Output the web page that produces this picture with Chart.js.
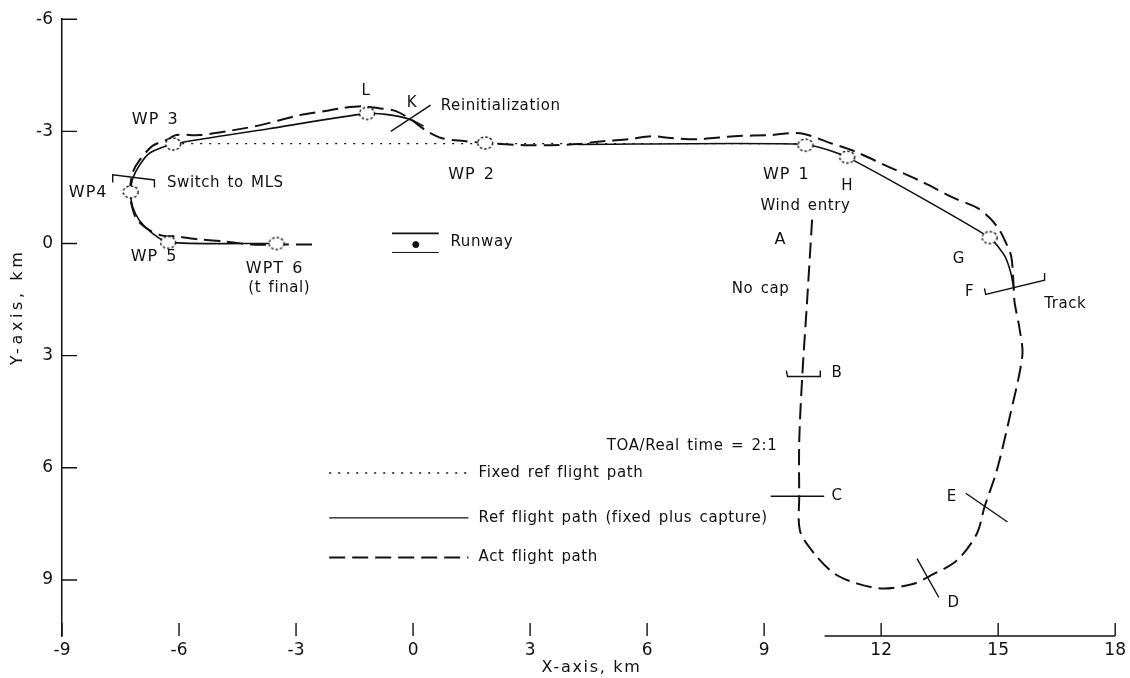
<!DOCTYPE html>
<html lang="en">
<head>
<meta charset="UTF-8">
<title>Flight path, X-Y plane</title>
<script src="https://cdn.jsdelivr.net/npm/chart.js"></script>
<style>
  body { margin: 0; background: #fff; }
</style>
</head>
<body>
<canvas id="pathChart" width="1130" height="678"></canvas>
<script>
const INK = '#111';
const FONT = '"DejaVu Sans", sans-serif';

// axis ticks
const xTicks = [-9, -6, -3, 0, 3, 6, 9, 12, 15, 18];
const yTicks = [-6, -3, 0, 3, 6, 9];

// fixed ref flight path (dotted)
const fixedX = [-6.15, 1.85, 10.06];
const fixedY = [-2.67, -2.67, -2.67];

// ref flight path, fixed plus capture (solid) - west part up to K
const refWestX = [-3.50, -6.28, -6.68, -7.01, -7.19, -7.24, -7.19, -7.01, -6.75, -6.15, -3.70, -1.18, -0.75, -0.37, -0.03, 0.27];
const refWestY = [0.00, -0.03, -0.27, -0.61, -0.98, -1.38, -1.73, -2.10, -2.42, -2.66, -3.07, -3.48, -3.46, -3.40, -3.30, -3.14];
// east part, WP 1 - H - G - F
const refEastX = [4.23, 10.06, 11.13, 14.78, 15.16, 15.32, 15.40];
const refEastY = [-2.65, -2.65, -2.31, -0.16, 0.32, 0.77, 1.20];

// act flight path (dashed), from wind entry round the loop to WPT 6
const actX = [
  10.23, 10.10, 9.98, 9.90, 9.90, 9.92, 10.29, 10.80, 11.39, 12.07,
  12.84, 13.22, 13.94, 14.45, 14.65, 14.96, 15.27, 15.62, 15.55, 15.42,
  15.40, 15.34, 15.22, 15.04, 14.78, 14.45, 13.86, 12.99, 12.15, 11.31,
  10.69, 9.93, 9.16, 8.24, 7.30, 6.61, 6.10, 5.51, 4.92, 4.23,
  3.54, 2.87, 1.85, 1.30, 0.73, 0.32, -0.03, -0.44, -0.88, -1.31,
  -1.83, -2.16, -2.92, -3.94, -4.79, -5.48, -6.07, -6.32, -6.68, -7.01,
  -7.19, -7.26, -7.21, -7.08, -6.75, -6.42, -6.07, -5.48, -4.79, -4.12,
  -3.50, -2.55
];
const actY = [
  -0.64, 1.57, 3.51, 5.29, 6.76, 7.69, 8.30, 8.83, 9.10, 9.23,
  9.10, 8.91, 8.48, 7.77, 7.05, 6.09, 4.76, 3.00, 2.29, 1.57,
  1.20, 0.37, 0.03, -0.35, -0.69, -0.96, -1.22, -1.68, -2.07, -2.47,
  -2.69, -2.95, -2.90, -2.87, -2.79, -2.82, -2.87, -2.79, -2.74, -2.66,
  -2.63, -2.63, -2.69, -2.74, -2.82, -3.03, -3.30, -3.54, -3.62, -3.67,
  -3.62, -3.56, -3.43, -3.16, -3.00, -2.90, -2.90, -2.77, -2.61, -2.23,
  -1.89, -1.36, -1.01, -0.64, -0.35, -0.21, -0.19, -0.11, -0.05, 0.03,
  0.03, 0.03
];

// waypoints (dashed circles)
const wpNames = ['WP 3', 'WP4', 'WP 5', 'WPT 6', 'L', 'WP 2', 'WP 1', 'H', 'G'];
const wpX = [-6.15, -7.24, -6.28, -3.50, -1.18, 1.85, 10.06, 11.13, 14.78];
const wpY = [-2.66, -1.38, -0.03, 0.00, -3.48, -2.69, -2.63, -2.31, -0.16];

// event marks across the path
const markK = [[-0.57, -3.00], [0.45, -3.70]];
const markMLS = [[-7.70, -1.63], [-7.70, -1.84], [-6.63, -1.70], [-6.63, -1.50]];
const markB = [[9.57, 3.40], [9.60, 3.56], [10.44, 3.56], [10.44, 3.40]];
const markC = [[9.17, 6.76], [10.54, 6.76]];
const markD = [[12.92, 8.43], [13.48, 9.47]];
const markE = [[14.17, 6.68], [15.24, 7.45]];
const markF = [[14.65, 1.20], [14.68, 1.36], [16.19, 0.98], [16.19, 0.79]];

// runway symbol
const runwayTop = [[-0.54, -0.27], [0.66, -0.27]];
const runwayBottom = [[-0.54, 0.24], [0.66, 0.24]];
const runwayDot = [[0.07, 0.03]];

// text notes: [text, x, y, align, big]
const notes = [
  ['WP 3', -6.61, -3.30, 'center', true],
  ['WP4', -8.33, -1.36, 'center', true],
  ['Switch to MLS', -6.31, -1.62, 'left', false],
  ['WP 5', -6.64, 0.37, 'center', true],
  ['WPT 6', -3.55, 0.69, 'center', true],
  ['(t final)', -3.43, 1.20, 'center', false],
  ['L', -1.21, -4.07, 'center', false],
  ['K', -0.03, -3.75, 'center', false],
  ['Reinitialization', 0.71, -3.67, 'left', false],
  ['WP 2', 1.50, -1.84, 'center', true],
  ['WP 1', 9.57, -1.84, 'center', true],
  ['H', 11.13, -1.54, 'center', false],
  ['Wind entry', 10.06, -1.01, 'center', false],
  ['A', 9.42, -0.11, 'center', true],
  ['No cap', 8.91, 1.22, 'center', false],
  ['B', 10.87, 3.48, 'center', false],
  ['TOA/Real time = 2:1', 9.34, 5.43, 'right', false],
  ['C', 10.87, 6.76, 'center', false],
  ['D', 13.86, 9.63, 'center', false],
  ['E', 13.81, 6.78, 'center', false],
  ['G', 13.99, 0.43, 'center', false],
  ['F', 14.27, 1.30, 'center', false],
  ['Track', 16.72, 1.62, 'center', false],
  ['Runway', 0.96, -0.03, 'left', false]
];

// key, drawn inside the plot
const keyLabels = ['Fixed ref flight path', 'Ref flight path (fixed plus capture)', 'Act flight path'];
const keyRows = [6.14, 7.34, 8.40];
const keySample = [-2.15, 1.42];
const keyTextX = 1.68;
const keyDash = [[2, 7], [], [16, 7]];
const axisStubFrom = 10.55;

function pts(xs, ys) {
  return xs.map((x, i) => ({ x: x, y: ys[i] }));
}
function pairs(list) {
  return list.map(p => ({ x: p[0], y: p[1] }));
}

// dashed ellipse used as the waypoint symbol
function makeMarker() {
  const c = document.createElement('canvas');
  c.width = 20; c.height = 16;
  const g = c.getContext('2d');
  g.beginPath();
  g.ellipse(10, 8, 7.5, 6, 0, 0, Math.PI * 2);
  g.fillStyle = '#fff';
  g.fill();
  g.setLineDash([2.5, 2]);
  g.lineWidth = 1.4;
  g.strokeStyle = INK;
  g.stroke();
  return c;
}

function pathSet(data, opts) {
  return Object.assign({
    data: data,
    showLine: true,
    pointRadius: 0,
    borderColor: INK,
    backgroundColor: INK,
    borderWidth: 1.4,
    tension: 0,
    fill: false
  }, opts);
}

const datasets = [
  { label: 'waypoints', data: pts(wpX, wpY), pointStyle: makeMarker(), pointRadius: 8, showLine: false },
  pathSet(pts(actX, actY), { label: 'Act flight path', borderDash: [16, 7], borderWidth: 2, tension: 0.3 }),
  pathSet(pts(refWestX, refWestY), { label: 'Ref west', borderWidth: 1.6, tension: 0.25 }),
  pathSet(pts(refEastX, refEastY), { label: 'Ref east', borderWidth: 1.6, tension: 0.2 }),
  pathSet(pts(fixedX, fixedY), { label: 'Fixed ref flight path', borderDash: [2, 7], borderWidth: 1.3 }),
  pathSet(pairs(markK), { label: 'K' }),
  pathSet(pairs(markMLS), { label: 'MLS' }),
  pathSet(pairs(markB), { label: 'B' }),
  pathSet(pairs(markC), { label: 'C' }),
  pathSet(pairs(markD), { label: 'D' }),
  pathSet(pairs(markE), { label: 'E' }),
  pathSet(pairs(markF), { label: 'F' }),
  pathSet(pairs(runwayTop), { label: 'runway', borderWidth: 1.6 }),
  pathSet(pairs(runwayBottom), { label: 'runway', borderWidth: 1 }),
  { label: 'runway dot', data: pairs(runwayDot), pointRadius: 3, backgroundColor: INK, borderColor: INK, showLine: false }
];

const frame = {
  id: 'frame',
  afterDraw(chart) {
    const { ctx, chartArea: area, scales: { x, y } } = chart;
    ctx.save();
    ctx.strokeStyle = INK;
    ctx.lineWidth = 1.4;

    // tick marks pointing into the plot
    ctx.beginPath();
    yTicks.forEach(v => {
      const p = y.getPixelForValue(v);
      ctx.moveTo(area.left, p);
      ctx.lineTo(area.left + 15, p);
    });
    xTicks.forEach(v => {
      const p = x.getPixelForValue(v);
      ctx.moveTo(p, area.bottom);
      ctx.lineTo(p, area.bottom - 13);
    });
    // only the right end of the x axis line is drawn
    ctx.moveTo(x.getPixelForValue(axisStubFrom), area.bottom);
    ctx.lineTo(area.right, area.bottom);
    ctx.stroke();

    // key
    keyLabels.forEach((t, i) => {
      const py = y.getPixelForValue(keyRows[i]);
      ctx.beginPath();
      ctx.setLineDash(keyDash[i]);
      ctx.lineWidth = i === 2 ? 2 : 1.4;
      ctx.moveTo(x.getPixelForValue(keySample[0]), py);
      ctx.lineTo(x.getPixelForValue(keySample[1]), py);
      ctx.stroke();
    });
    ctx.setLineDash([]);

    ctx.fillStyle = INK;
    ctx.textBaseline = 'middle';
    ctx.letterSpacing = '0.6px';
    ctx.wordSpacing = '2px';
    ctx.font = '15px ' + FONT;
    ctx.textAlign = 'left';
    keyLabels.forEach((t, i) => {
      ctx.fillText(t, x.getPixelForValue(keyTextX), y.getPixelForValue(keyRows[i]));
    });

    notes.forEach(n => {
      ctx.font = (n[4] ? '16px ' : '15px ') + FONT;
      ctx.letterSpacing = n[4] ? '1px' : '0.6px';
      ctx.textAlign = n[3];
      ctx.fillText(n[0], x.getPixelForValue(n[1]), y.getPixelForValue(n[2]));
    });

    // axis titles
    ctx.font = '16px ' + FONT;
    ctx.wordSpacing = '0px';
    ctx.textAlign = 'center';
    ctx.letterSpacing = '1.7px';
    ctx.fillText('X-axis, km', (area.left + area.right) / 2 + 3, 668);
    ctx.letterSpacing = '3.6px';
    ctx.translate(18, 307);
    ctx.rotate(-Math.PI / 2);
    ctx.fillText('Y-axis, km', 0, 0);
    ctx.restore();
  }
};

new Chart(document.getElementById('pathChart'), {
  type: 'scatter',
  data: { datasets: datasets },
  options: {
    responsive: false,
    animation: false,
    devicePixelRatio: 1,
    layout: { padding: { top: 15, right: 11, left: 0, bottom: 0 } },
    plugins: { legend: { display: false }, tooltip: { enabled: false } },
    scales: {
      x: {
        type: 'linear',
        min: -9,
        max: 18,
        afterBuildTicks: s => { s.ticks = xTicks.map(v => ({ value: v })); },
        afterFit: s => { s.height = 42; },
        grid: { display: false, drawTicks: false },
        border: { display: false },
        ticks: { color: INK, font: { family: FONT, size: 17 }, padding: 4, maxRotation: 0, autoSkip: false }
      },
      y: {
        type: 'linear',
        reverse: true,
        min: -6,
        max: 10.5,
        afterBuildTicks: s => { s.ticks = yTicks.map(v => ({ value: v })); },
        afterFit: s => { s.width = 62; },
        grid: { display: false, drawTicks: false },
        border: { display: true, color: INK, width: 1.5 },
        ticks: { color: INK, font: { family: FONT, size: 17 }, padding: 9 }
      }
    }
  },
  plugins: [frame]
});
</script>
</body>
</html>
